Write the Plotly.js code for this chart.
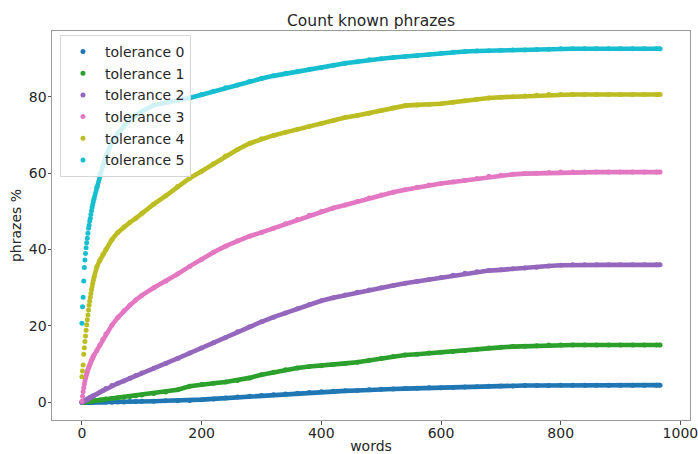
<!DOCTYPE html>
<html>
<head>
<meta charset="utf-8">
<script src="https://cdn.plot.ly/plotly-3.0.1.min.js"></script>
<style>html,body{margin:0;padding:0;background:#fff;}#chart{width:698px;height:454px;}</style>
</head>
<body>
<div id="chart"></div>
<script>
const words = [0,1,2,3,4,5,6,7,8,9,10,11,12,13,14,15,16,17,18,19,20,
  25,30,35,40,50,60,70,80,90,100,
  120,140,160,180,200,220,240,260,280,300,320,340,360,380,400,420,440,460,480,500,
  520,540,560,580,600,620,640,660,680,700,720,740,760,780,800,820,840,860,880,900,920,940,960,
  966];

const tol0 = [0,0,0,0,0,0,0,0,0,0,0,0,0,0,0,0,0,0,0,0,0,
  0,0,0,0,0,0.1,0.1,0.2,0.2,0.3,
  0.3,0.4,0.4,0.5,0.7,0.9,1.1,1.4,1.6,1.8,2.0,2.2,2.4,2.6,2.8,2.9,3.0,3.1,3.3,3.4,
  3.5,3.6,3.7,3.8,3.8,3.9,4.0,4.1,4.2,4.3,4.3,4.4,4.4,4.4,4.5,4.5,4.5,4.5,4.5,4.5,4.5,4.5,4.5,
  4.5];

const tol1 = [0,0,0,0,0.1,0.1,0.1,0.1,0.2,0.2,0.2,0.2,0.2,0.3,0.3,0.3,0.3,0.3,0.4,0.4,0.4,
  0.5,0.6,0.7,0.9,1.0,1.2,1.3,1.5,1.7,1.9,
  2.3,2.7,3.3,4.2,4.7,5.0,5.3,5.7,6.4,7.2,7.9,8.5,9.0,9.4,9.6,9.9,10.2,10.5,11.0,11.5,
  12.0,12.4,12.6,12.9,13.1,13.3,13.6,13.9,14.2,14.4,14.6,14.7,14.8,15.0,15.0,15.0,15.0,15.0,15.0,15.0,15.0,15.0,15.0,
  15.0];

const tol2 = [0.0,0.1,0.2,0.3,0.4,0.4,0.5,0.6,0.7,0.8,0.9,1.0,1.1,1.2,1.2,1.3,1.4,1.5,1.6,1.7,1.8,
  2.2,2.7,3.1,3.6,4.4,5.0,5.6,6.3,7.0,7.7,
  8.9,10.2,11.5,12.9,14.2,15.6,17.0,18.5,19.8,21.1,22.3,23.4,24.5,25.6,26.6,27.4,28.1,28.8,29.4,30.0,
  30.6,31.2,31.7,32.2,32.7,33.3,33.8,34.2,34.5,34.7,35.0,35.2,35.4,35.7,35.9,36.0,36.0,36.0,36.0,36.0,36.0,36.0,36.0,
  36.0];

const tol3 = [0.3,1.6,2.8,3.8,4.8,5.6,6.3,6.9,7.5,8.0,8.5,9.0,9.4,9.8,10.2,10.6,11.0,11.3,11.7,12.0,12.3,
  13.6,15.0,16.5,17.9,20.2,22.2,23.9,25.4,26.8,28.0,
  30.0,31.7,33.6,35.6,37.5,39.3,40.9,42.3,43.5,44.5,45.6,46.8,47.9,49.0,50.0,50.9,51.7,52.6,53.5,54.3,
  55.0,55.7,56.3,56.9,57.3,57.7,58.1,58.6,59.2,59.5,59.7,59.9,60.0,60.2,60.3,60.3,60.3,60.3,60.3,60.3,60.3,60.3,60.3,
  60.3];

const tol4 = [6.7,8.2,9.8,12.6,14.3,15.9,17.4,18.9,20.3,21.6,22.9,24.2,25.4,26.5,27.5,28.5,29.5,30.3,31.1,31.9,32.6,
  35.5,37.2,38.7,40.0,42.6,44.5,45.9,47.1,48.2,49.5,
  51.9,54.1,56.5,58.7,60.5,62.5,64.5,66.2,67.8,69.0,69.9,70.7,71.5,72.3,73.0,73.8,74.6,75.1,75.7,76.4,
  77.1,77.7,77.9,78.0,78.2,78.6,79.0,79.4,79.7,79.9,80.0,80.2,80.4,80.6,80.6,80.6,80.6,80.6,80.6,80.6,80.6,80.6,80.6,
  80.6];

const tol5 = [20.7,25.0,27.5,31.8,35.3,37.3,39.0,40.5,41.8,43.0,44.3,45.6,46.4,47.5,48.2,49.2,50.2,51.0,51.8,52.5,53.2,
  56.3,59.8,62.0,64.3,68.3,70.5,72.4,74.0,75.2,76.2,
  77.8,78.6,79.1,79.7,80.6,81.5,82.4,83.1,84.0,84.8,85.5,86.1,86.6,87.2,87.7,88.3,88.8,89.2,89.7,90.0,
  90.3,90.6,90.8,91.1,91.4,91.7,91.9,92.0,92.1,92.2,92.3,92.3,92.4,92.5,92.6,92.6,92.6,92.6,92.6,92.6,92.6,92.6,92.6,
  92.6];

const seriesNames = ['tolerance 0','tolerance 1','tolerance 2','tolerance 3','tolerance 4','tolerance 5'];
const seriesValues = [tol0, tol1, tol2, tol3, tol4, tol5];
const seriesColors = ['#1f77b4','#2ca02c','#9467bd','#e377c2','#bcbd22','#17becf'];

const xTicks = [0,200,400,600,800,1000];
const yTicks = [0,20,40,60,80];

const FONT = 'DejaVu Sans, Liberation Sans, sans-serif';
const TXT = '#262626';

// the dense per-word part is drawn as dots only, the rest as a thick band of dots
const lineStart = words.indexOf(20);

const traces = [];
seriesValues.forEach((vals, i) => {
  traces.push({
    type: 'scatter', mode: 'lines',
    x: words.slice(lineStart), y: vals.slice(lineStart),
    line: {color: seriesColors[i], width: 4.6},
    legendgroup: 'g' + i, showlegend: false, hoverinfo: 'skip'
  });
  traces.push({
    type: 'scatter', mode: 'markers',
    x: words, y: vals, name: seriesNames[i],
    marker: {color: seriesColors[i], size: 5},
    legendgroup: 'g' + i, showlegend: true
  });
});

const layout = {
  width: 698, height: 454,
  margin: {l: 52, r: 8, t: 31, b: 34, pad: 0},
  paper_bgcolor: '#fff', plot_bgcolor: '#fff',
  font: {family: FONT, size: 14, color: TXT},
  title: {text: 'Count known phrazes', font: {family: FONT, size: 15.5, color: TXT},
          x: 0.5, xanchor: 'center', xref: 'paper', y: 0.955, yref: 'container', yanchor: 'middle'},
  xaxis: {
    range: [-50, 1016], tickvals: xTicks, ticktext: xTicks.map(String),
    ticks: 'outside', ticklen: 3.5, tickwidth: 1, tickcolor: '#555',
    showline: true, mirror: true, linecolor: '#999', linewidth: 1,
    showgrid: false, zeroline: false, automargin: false,
    ticklabeloverflow: 'allow', ticklabelstandoff: -3,
    tickfont: {family: FONT, size: 14, color: TXT},
    title: {text: 'words', font: {family: FONT, size: 14, color: TXT}, standoff: 12}
  },
  yaxis: {
    range: [-4.63, 97.25], tickvals: yTicks, ticktext: yTicks.map(String),
    ticks: 'outside', ticklen: 3.5, tickwidth: 1, tickcolor: '#555',
    showline: true, mirror: true, linecolor: '#999', linewidth: 1,
    showgrid: false, zeroline: false, automargin: false,
    ticklabelstandoff: -2,
    tickfont: {family: FONT, size: 14, color: TXT},
    title: {text: 'phrazes %', font: {family: FONT, size: 14, color: TXT}, standoff: 3.5}
  },
  legend: {
    x: 0.0125, y: 0.99, xanchor: 'left', yanchor: 'top',
    bgcolor: 'rgba(255,255,255,0.8)', bordercolor: '#d6d6d6', borderwidth: 1,
    font: {family: FONT, size: 14, color: TXT}, itemwidth: 34,
    traceorder: 'grouped', tracegroupgap: 0.5
  },
  showlegend: true
};

Plotly.newPlot('chart', traces, layout, {staticPlot: true, displayModeBar: false});
</script>
</body>
</html>
